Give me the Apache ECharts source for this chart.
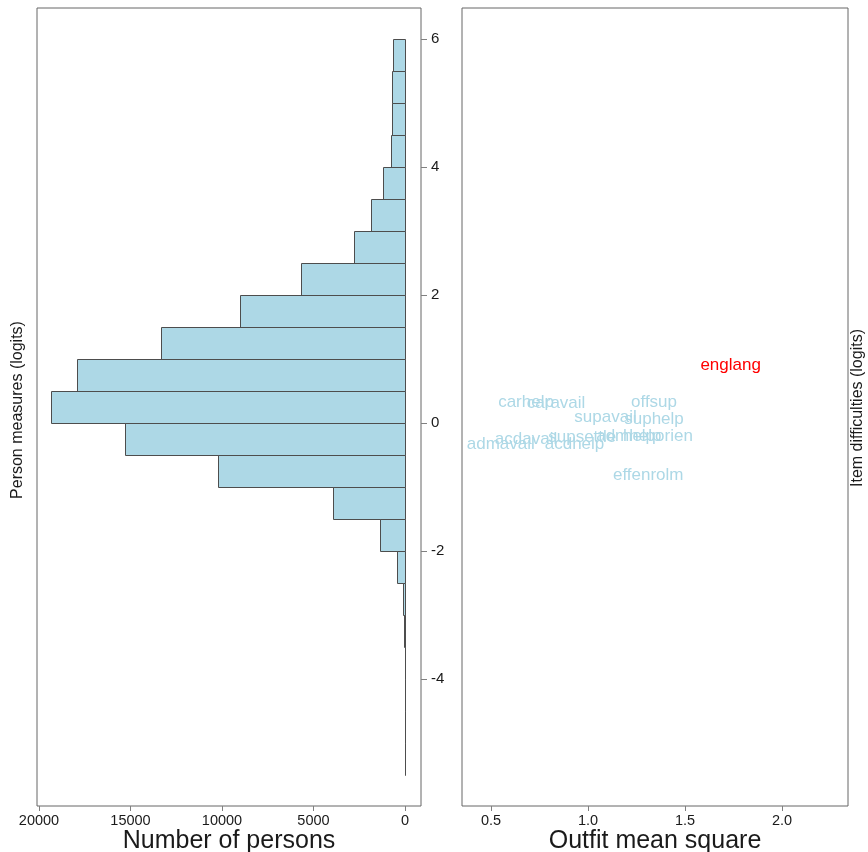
<!DOCTYPE html>
<html>
<head>
<meta charset="utf-8">
<script src="https://cdn.jsdelivr.net/npm/echarts@6/dist/echarts.min.js"></script>
<style>
  html, body { margin: 0; padding: 0; background: #fff; }
  #chart { width: 868px; height: 852px; }
</style>
</head>
<body>
<div id="chart"></div>
<script>
// Person measure histogram: bin edges (logits) and counts per bin
const binLower = [5.5, 5.0, 4.5, 4.0, 3.5, 3.0, 2.5, 2.0, 1.5, 1.0, 0.5, 0.0,
                  -0.5, -1.0, -1.5, -2.0, -2.5, -3.0, -3.5, -4.0, -4.5, -5.0, -5.5];
const binUpper = [6.0, 5.5, 5.0, 4.5, 4.0, 3.5, 3.0, 2.5, 2.0, 1.5, 1.0, 0.5,
                  0.0, -0.5, -1.0, -1.5, -2.0, -2.5, -3.0, -3.5, -4.0, -4.5, -5.0];
const binCounts = [630, 720, 720, 750, 1210, 1880, 2810, 5710, 8990, 13360, 17950, 19370,
                   15290, 10230, 3950, 1360, 450, 130, 40, 25, 18, 12, 3];

// Item fit (outfit MNSQ) and difficulty (logits)
const itemNames = ["englang", "carhelp", "caravail", "offsup", "supavail", "suphelp",
                   "acdavail", "supsettle", "admhelp", "helporien", "admavail", "acdhelp", "effenrolm"];
const itemOutfit = [1.735, 0.68, 0.835, 1.34, 1.09, 1.34,
                    0.68, 0.97, 1.21, 1.36, 0.55, 0.93, 1.31];
const itemDifficulty = [0.90, 0.33, 0.30, 0.33, 0.09, 0.06,
                        -0.25, -0.22, -0.21, -0.21, -0.34, -0.34, -0.81];
const highlightedItem = "englang";

// Tick labels
const personTicks = [0, 5000, 10000, 15000, 20000];
const outfitTicks = [0.5, 1.0, 1.5, 2.0];
const logitTicks = [-4, -2, 0, 2, 4, 6];

const FONT = '"Liberation Sans", Arial, sans-serif';
const frameColor = '#666666';
const tickColor = '#808080';
const labelColor = '#1a1a1a';
const logitMin = -5.984, logitMax = 6.484;

const chart = echarts.init(document.getElementById('chart'), null, { renderer: 'canvas' });

const histData = binLower.map((lo, i) => [lo, binUpper[i], binCounts[i]]);
const itemData = itemNames.map((n, i) => [itemOutfit[i], itemDifficulty[i], i]);

const option = {
  backgroundColor: '#ffffff',
  animation: false,
  textStyle: { fontFamily: FONT },
  grid: [
    { left: 37, top: 8, width: 384, height: 798, outerBoundsMode: 'none', containLabel: false,
      show: true, borderColor: frameColor, borderWidth: 1, backgroundColor: 'transparent' },
    { left: 462, top: 8, width: 386, height: 798, outerBoundsMode: 'none', containLabel: false,
      show: true, borderColor: frameColor, borderWidth: 1, backgroundColor: 'transparent' }
  ],
  xAxis: [
    {
      gridIndex: 0, type: 'value', inverse: true, min: -874, max: 20109,
      name: 'Number of persons', nameLocation: 'middle', nameGap: 23, nameMoveOverlap: false,
      nameTextStyle: { fontSize: 25, color: labelColor, fontFamily: FONT },
      splitLine: { show: false }, axisLine: { show: false, onZero: false },
      axisTick: { show: true, customValues: personTicks, length: 5, lineStyle: { color: tickColor } },
      axisLabel: { customValues: personTicks, margin: 7, fontSize: 14.5, color: labelColor, fontFamily: FONT,
                   formatter: v => String(v) }
    },
    {
      gridIndex: 1, type: 'value', min: 0.35, max: 2.34,
      name: 'Outfit mean square', nameLocation: 'middle', nameGap: 23, nameMoveOverlap: false,
      nameTextStyle: { fontSize: 25, color: labelColor, fontFamily: FONT },
      splitLine: { show: false }, axisLine: { show: false, onZero: false },
      axisTick: { show: true, customValues: outfitTicks, length: 5, lineStyle: { color: tickColor } },
      axisLabel: { customValues: outfitTicks, margin: 7, fontSize: 14.5, color: labelColor, fontFamily: FONT,
                   formatter: v => v.toFixed(1) }
    }
  ],
  yAxis: [
    {
      gridIndex: 0, type: 'value', position: 'right', min: logitMin, max: logitMax,
      splitLine: { show: false }, axisLine: { show: false, onZero: false },
      axisTick: { show: true, customValues: logitTicks, length: 6, lineStyle: { color: tickColor } },
      axisLabel: { customValues: logitTicks, margin: 10, fontSize: 15, color: labelColor, fontFamily: FONT,
                   align: 'left' }
    },
    {
      gridIndex: 1, type: 'value', position: 'right', min: logitMin, max: logitMax,
      splitLine: { show: false }, axisLine: { show: false, onZero: false },
      axisTick: { show: false }, axisLabel: { show: false }
    }
  ],
  series: [
    {
      type: 'custom', xAxisIndex: 0, yAxisIndex: 0,
      data: histData,
      encode: { x: 2, y: [0, 1] },
      renderItem: function (params, api) {
        const lo = api.value(0), hi = api.value(1), n = api.value(2);
        const a = api.coord([0, hi]);
        const b = api.coord([n, lo]);
        const x0 = Math.round(Math.min(a[0], b[0])) + 0.5;
        const x1 = Math.round(Math.max(a[0], b[0])) + 0.5;
        const y0 = Math.round(a[1]) + 0.5;
        const y1 = Math.round(b[1]) + 0.5;
        return {
          type: 'rect',
          shape: { x: x0, y: y0, width: Math.max(x1 - x0, 0), height: y1 - y0 },
          style: { fill: '#ADD8E6', stroke: '#4d4d4d', lineWidth: 1 }
        };
      }
    },
    {
      type: 'custom', xAxisIndex: 1, yAxisIndex: 1,
      data: itemData,
      encode: { x: 0, y: 1 },
      renderItem: function (params, api) {
        const p = api.coord([api.value(0), api.value(1)]);
        const name = itemNames[api.value(2)];
        return {
          type: 'text',
          x: p[0], y: p[1],
          style: {
            text: name,
            fill: name === highlightedItem ? '#FF0000' : '#ADD8E6',
            font: '17px ' + FONT,
            align: 'center',
            verticalAlign: 'middle'
          }
        };
      }
    }
  ],
  graphic: [
    {
      type: 'text', x: 18, y: 410, rotation: Math.PI / 2,
      style: { text: 'Person measures (logits)', fill: labelColor, font: '16px ' + FONT,
               align: 'center', verticalAlign: 'middle' }
    },
    {
      type: 'text', x: 858, y: 408, rotation: Math.PI / 2,
      style: { text: 'Item difficulties (logits)', fill: labelColor, font: '16px ' + FONT,
               align: 'center', verticalAlign: 'middle' }
    }
  ]
};

chart.setOption(option);
</script>
</body>
</html>
